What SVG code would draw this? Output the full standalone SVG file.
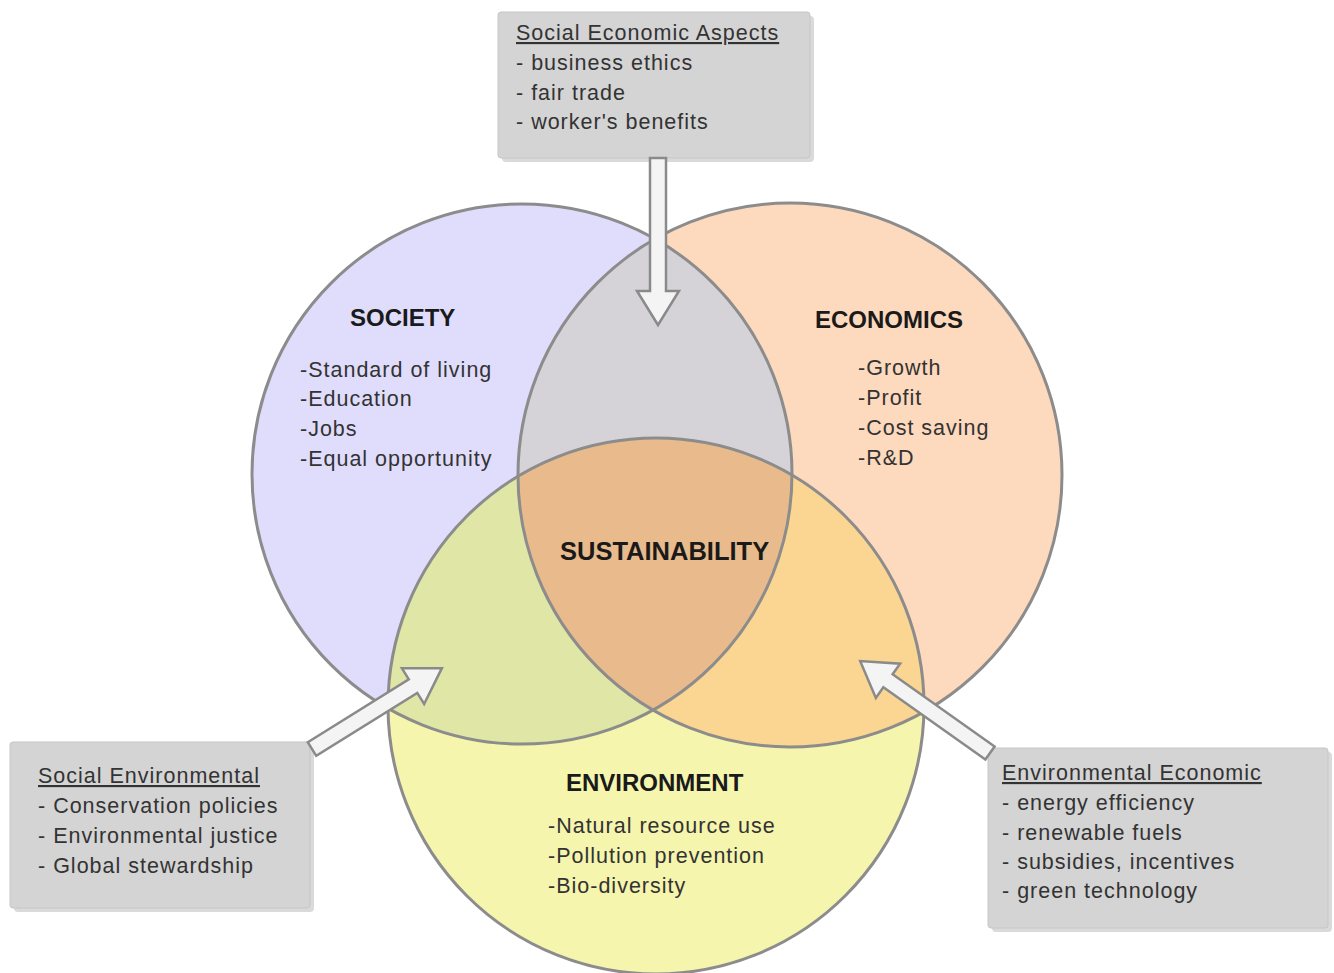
<svg xmlns="http://www.w3.org/2000/svg" width="1334" height="973" viewBox="0 0 1334 973">
<defs>
<style>
text{font-family:"Liberation Sans",Arial,sans-serif;fill:#222;}
.ttl{font-weight:bold;font-size:24px;fill:#1a1a1a;}
.itm{font-size:21.5px;letter-spacing:1px;fill:#333;}
.hd{font-size:21.5px;letter-spacing:1px;text-decoration:underline;fill:#333;}
.circ{fill:none;stroke:#8c8c8c;stroke-width:3;}
.box{fill:#d4d4d4;stroke:#c6c6c6;stroke-width:1;}
.shadow{fill:#c2c2c2;opacity:0.6;}
.arrow{fill:#f4f4f4;stroke:#8a8a8a;stroke-width:2.5;stroke-linejoin:miter;}
</style>
<clipPath id="cS"><circle cx="522" cy="474" r="270"/></clipPath>
<clipPath id="cE"><circle cx="790" cy="475" r="272"/></clipPath>
<clipPath id="cV"><circle cx="656" cy="706" r="268"/></clipPath>
</defs>
<rect width="1334" height="973" fill="#ffffff"/>
<g id="fills">
<circle cx="522" cy="474" r="270" fill="#e0ddfc"/>
<circle cx="790" cy="475" r="272" fill="#fdd9bd"/>
<circle cx="656" cy="706" r="268" fill="#f5f5ad"/>
<g clip-path="url(#cS)"><circle cx="790" cy="475" r="272" fill="#d5d3d8"/></g>
<g clip-path="url(#cS)"><circle cx="656" cy="706" r="268" fill="#dfe6a6"/></g>
<g clip-path="url(#cE)"><circle cx="656" cy="706" r="268" fill="#fbd692"/></g>
<g clip-path="url(#cS)"><g clip-path="url(#cE)"><circle cx="656" cy="706" r="268" fill="#e9bb8c"/></g></g>
</g>
<g id="society">
<circle class="circ" cx="522" cy="474" r="270"/>
<text class="ttl" x="350" y="326">SOCIETY</text>
<text class="itm" x="300" y="377">-Standard of living</text>
<text class="itm" x="300" y="406">-Education</text>
<text class="itm" x="300" y="436">-Jobs</text>
<text class="itm" x="300" y="466">-Equal opportunity</text>
</g>
<g id="economics">
<circle class="circ" cx="790" cy="475" r="272"/>
<text class="ttl" x="815" y="328">ECONOMICS</text>
<text class="itm" x="858" y="375">-Growth</text>
<text class="itm" x="858" y="405">-Profit</text>
<text class="itm" x="858" y="435">-Cost saving</text>
<text class="itm" x="858" y="465">-R&amp;D</text>
</g>
<g id="environment">
<circle class="circ" cx="656" cy="706" r="268"/>
<text class="ttl" x="566" y="791">ENVIRONMENT</text>
<text class="itm" x="548" y="833">-Natural resource use</text>
<text class="itm" x="548" y="863">-Pollution prevention</text>
<text class="itm" x="548" y="893">-Bio-diversity</text>
</g>
<g id="sustainability">
<text class="ttl" x="560" y="560" style="font-size:25.5px">SUSTAINABILITY</text>
</g>
<g id="social-economic">
<rect class="shadow" x="502" y="16" width="312" height="146" rx="4"/>
<rect class="box" x="498" y="12" width="312" height="146" rx="3"/>
<text class="hd" x="516" y="40">Social Economic Aspects</text>
<text class="itm" x="516" y="70">- business ethics</text>
<text class="itm" x="516" y="100">- fair trade</text>
<text class="itm" x="516" y="129">- worker's benefits</text>
</g>
<g id="social-environmental">
<rect class="shadow" x="14" y="746" width="300" height="166" rx="4"/>
<rect class="box" x="10" y="742" width="300" height="166" rx="3"/>
<text class="hd" x="38" y="783">Social Environmental</text>
<text class="itm" x="38" y="813">- Conservation policies</text>
<text class="itm" x="38" y="843">- Environmental justice</text>
<text class="itm" x="38" y="873">- Global stewardship</text>
</g>
<g id="environmental-economic">
<rect class="shadow" x="992" y="752" width="340" height="180" rx="4"/>
<rect class="box" x="988" y="748" width="340" height="180" rx="3"/>
<text class="hd" x="1002" y="780">Environmental Economic</text>
<text class="itm" x="1002" y="810">- energy efficiency</text>
<text class="itm" x="1002" y="840">- renewable fuels</text>
<text class="itm" x="1002" y="869">- subsidies, incentives</text>
<text class="itm" x="1002" y="898">- green technology</text>
</g>
<g id="connectors">
<polygon class="arrow" transform="translate(658,158) rotate(90)" points="0,-8 133,-8 133,-21 167,0 133,21 133,8 0,8"/>
<polygon class="arrow" transform="translate(312,749) rotate(-31.9)" points="0,-8 119,-8 119,-21 153,0 119,21 119,8 0,8"/>
<polygon class="arrow" transform="translate(990,753) rotate(215.3)" points="0,-8 125,-8 125,-21 159,0 125,21 125,8 0,8"/>
</g>
</svg>
